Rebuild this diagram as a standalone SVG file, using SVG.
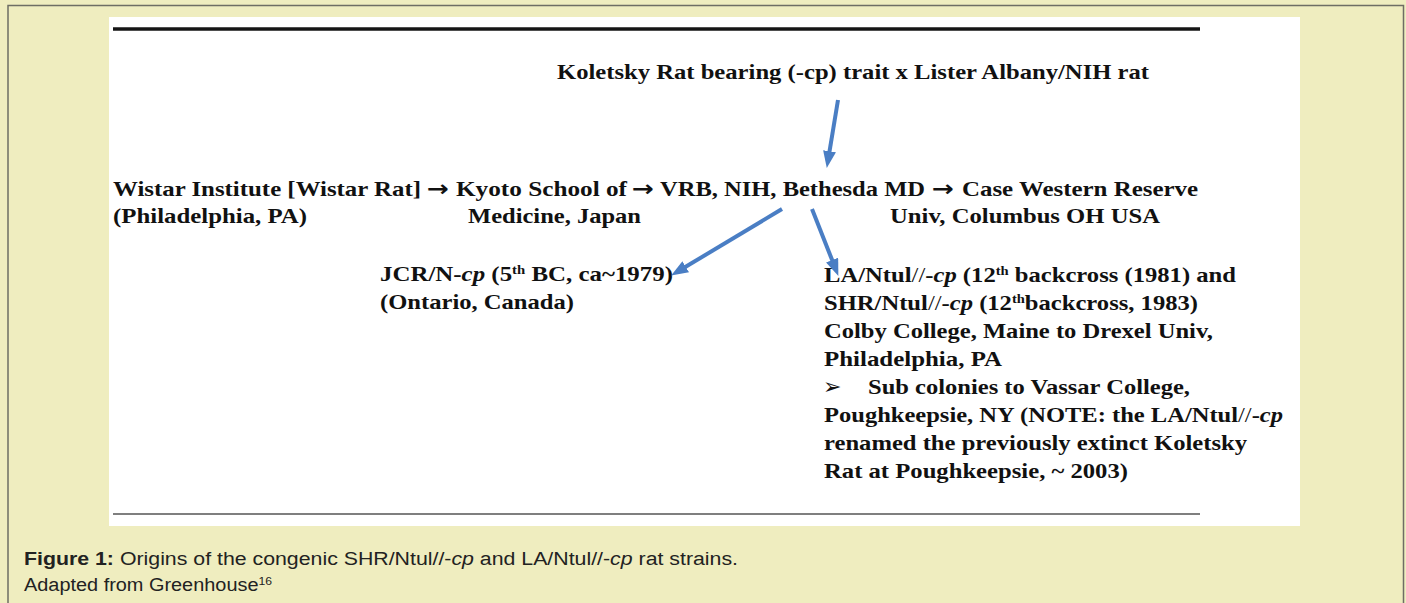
<svg xmlns="http://www.w3.org/2000/svg" width="1406" height="603" viewBox="0 0 1406 603">
<style>
.t{font-family:"Liberation Serif","Times New Roman",serif;font-size:22px;font-weight:bold;fill:#111}
.ar{font-family:"DejaVu Sans",sans-serif;font-size:22px;font-weight:bold;fill:#111}
.i{font-style:italic}
.n{font-weight:normal}
.sup{font-size:13px}
.cap{font-family:"Liberation Sans",Arial,sans-serif;font-size:18px;fill:#222}
.conn{stroke:#4a7ec4;stroke-width:4;fill:none}
</style>
<defs>
<marker id="ah" markerUnits="userSpaceOnUse" markerWidth="17" markerHeight="13" refX="4" refY="6.5" orient="auto">
<path d="M0,0 L17,6.5 L0,13 z" fill="#4a7ec4"/>
</marker>
</defs>
<rect x="0" y="0" width="1406" height="603" fill="#efedbf"/>
<path d="M8,603 L8,5.5 L1403.5,5.5 L1403.5,603" fill="none" stroke="#6e6e64" stroke-width="1.5"/>
<rect x="109" y="17" width="1191" height="509" fill="#ffffff"/>
<line x1="113" y1="29" x2="1200" y2="29" stroke="#151515" stroke-width="3.5"/>
<line x1="113" y1="514" x2="1200" y2="514" stroke="#555" stroke-width="1.5"/>

<g id="koletsky">
<text class="t" x="557" y="79" textLength="592" lengthAdjust="spacingAndGlyphs">Koletsky Rat bearing (-cp) trait x Lister Albany/NIH rat</text>
</g>
<g id="wistar">
<text class="t" x="113" y="196" textLength="308" lengthAdjust="spacingAndGlyphs">Wistar Institute [Wistar Rat]</text>
<text class="ar" x="427" y="196" textLength="22" lengthAdjust="spacingAndGlyphs">→</text>
<text class="t" x="113" y="223" textLength="194" lengthAdjust="spacingAndGlyphs">(Philadelphia, PA)</text>
</g>
<g id="kyoto">
<text class="t" x="456" y="196" textLength="171" lengthAdjust="spacingAndGlyphs">Kyoto School of</text>
<text class="ar" x="632" y="196" textLength="22" lengthAdjust="spacingAndGlyphs">→</text>
<text class="t" x="468" y="223" textLength="173" lengthAdjust="spacingAndGlyphs">Medicine, Japan</text>
</g>
<g id="vrb">
<text class="t" x="660" y="196" textLength="265" lengthAdjust="spacingAndGlyphs">VRB, NIH, Bethesda MD</text>
<text class="ar" x="932" y="196" textLength="22" lengthAdjust="spacingAndGlyphs">→</text>
</g>
<g id="case">
<text class="t" x="962" y="196" textLength="236" lengthAdjust="spacingAndGlyphs">Case Western Reserve</text>
<text class="t" x="890" y="223" textLength="270" lengthAdjust="spacingAndGlyphs">Univ, Columbus OH USA</text>
</g>
<g id="jcr">
<text class="t" x="380" y="281" textLength="293" lengthAdjust="spacingAndGlyphs">JCR/N-<tspan class="i">cp</tspan> (5<tspan class="sup" baseline-shift="super">th</tspan> BC, ca~1979)</text>
<text class="t" x="380" y="309" textLength="194" lengthAdjust="spacingAndGlyphs">(Ontario, Canada)</text>
</g>
<g id="la">
<text class="t" x="824" y="281.5" textLength="412" lengthAdjust="spacingAndGlyphs">LA/Ntul<tspan class="n">//</tspan>-<tspan class="i">cp</tspan> (12<tspan class="sup" baseline-shift="super">th</tspan> backcross (1981) and</text>
<text class="t" x="824" y="309.5" textLength="374" lengthAdjust="spacingAndGlyphs">SHR/Ntul<tspan class="n">//</tspan>-<tspan class="i">cp</tspan> (12<tspan class="sup" baseline-shift="super">th</tspan>backcross, 1983)</text>
<text class="t" x="824" y="337.5" textLength="389" lengthAdjust="spacingAndGlyphs">Colby College, Maine to Drexel Univ,</text>
<text class="t" x="824" y="365.5" textLength="178" lengthAdjust="spacingAndGlyphs">Philadelphia, PA</text>
<text x="823" y="393.5" style="font-family:'DejaVu Sans',sans-serif;font-size:22px;fill:#111">➢</text>
<text class="t" x="868" y="393.5" textLength="322" lengthAdjust="spacingAndGlyphs">Sub colonies to Vassar College,</text>
<text class="t" x="824" y="421.5" textLength="459" lengthAdjust="spacingAndGlyphs">Poughkeepsie, NY (NOTE: the LA/Ntul<tspan class="n">//</tspan>-<tspan class="i">cp</tspan></text>
<text class="t" x="824" y="449.5" textLength="423" lengthAdjust="spacingAndGlyphs">renamed the previously  extinct Koletsky</text>
<text class="t" x="824" y="477.5" textLength="304" lengthAdjust="spacingAndGlyphs">Rat at Poughkeepsie, ~ 2003)</text>
</g>
<g id="connectors">
<line class="conn" x1="838" y1="100" x2="828.9" y2="155.2" marker-end="url(#ah)"/>
<line class="conn" x1="782" y1="209" x2="682.3" y2="268.8" marker-end="url(#ah)"/>
<line class="conn" x1="812" y1="209" x2="833.6" y2="263.8" marker-end="url(#ah)"/>
</g>
<g id="caption">
<text class="cap" x="24" y="564.5" textLength="714" lengthAdjust="spacingAndGlyphs"><tspan font-weight="bold">Figure 1:</tspan> Origins of the congenic SHR/Ntul//-<tspan font-style="italic">cp</tspan> and LA/Ntul//-<tspan font-style="italic">cp</tspan> rat strains.</text>
<text class="cap" x="24" y="590.5" textLength="248" lengthAdjust="spacingAndGlyphs">Adapted from Greenhouse<tspan font-size="11" baseline-shift="super">16</tspan></text>
</g>
</svg>
